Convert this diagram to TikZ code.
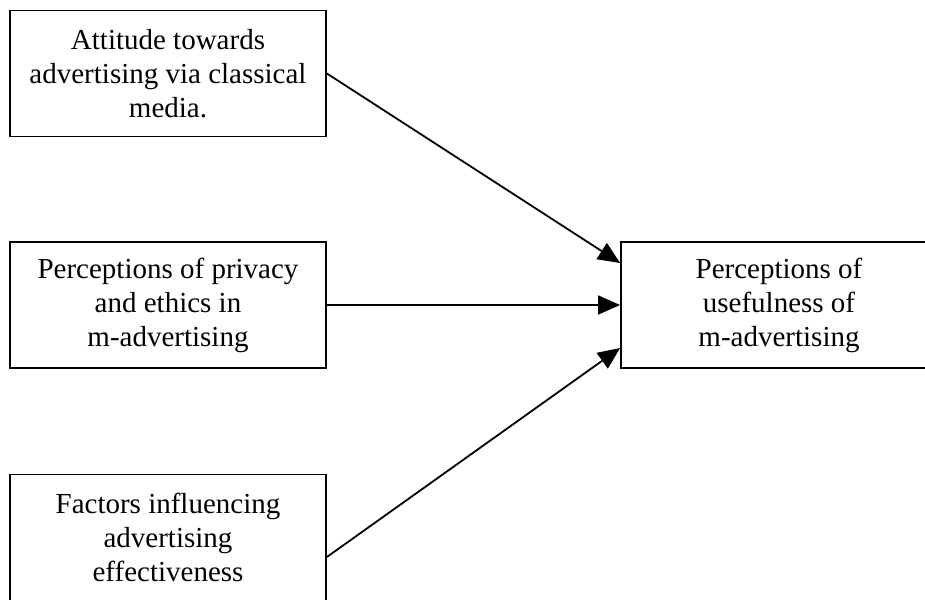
\documentclass[tikz,border=0pt]{standalone}
\usepackage{fontspec}
\setmainfont{Liberation Serif}
\usetikzlibrary{positioning,arrows.meta}

\begin{document}
\begin{tikzpicture}[x=1pt, y=1pt, line width=1.8pt, every node/.style={draw, align=center, font=\fontsize{29}{34}\selectfont, minimum width=316pt, minimum height=126pt, inner sep=0pt}, link/.style={-{Triangle[length=22pt,width=19pt]}}]
\useasboundingbox (0,0) rectangle (925,599);
\node (media) at (168,525.5) {Attitude towards\\advertising via classical\\media.};
\node (privacy) at (168,294) {Perceptions of privacy\\and ethics in\\m-advertising};
\node (factors) at (168,61.5) {Factors influencing\\advertising\\effectiveness};
\node (useful) at (779,294) {Perceptions of\\usefulness of\\m-advertising};
\draw[link] (media.east) -- ([yshift=42pt]useful.west); \draw[link] (privacy.east) -- (useful.west); \draw[link] ([yshift=-19.5pt]factors.east) -- ([yshift=-43pt]useful.west);
\end{tikzpicture}
\end{document}
